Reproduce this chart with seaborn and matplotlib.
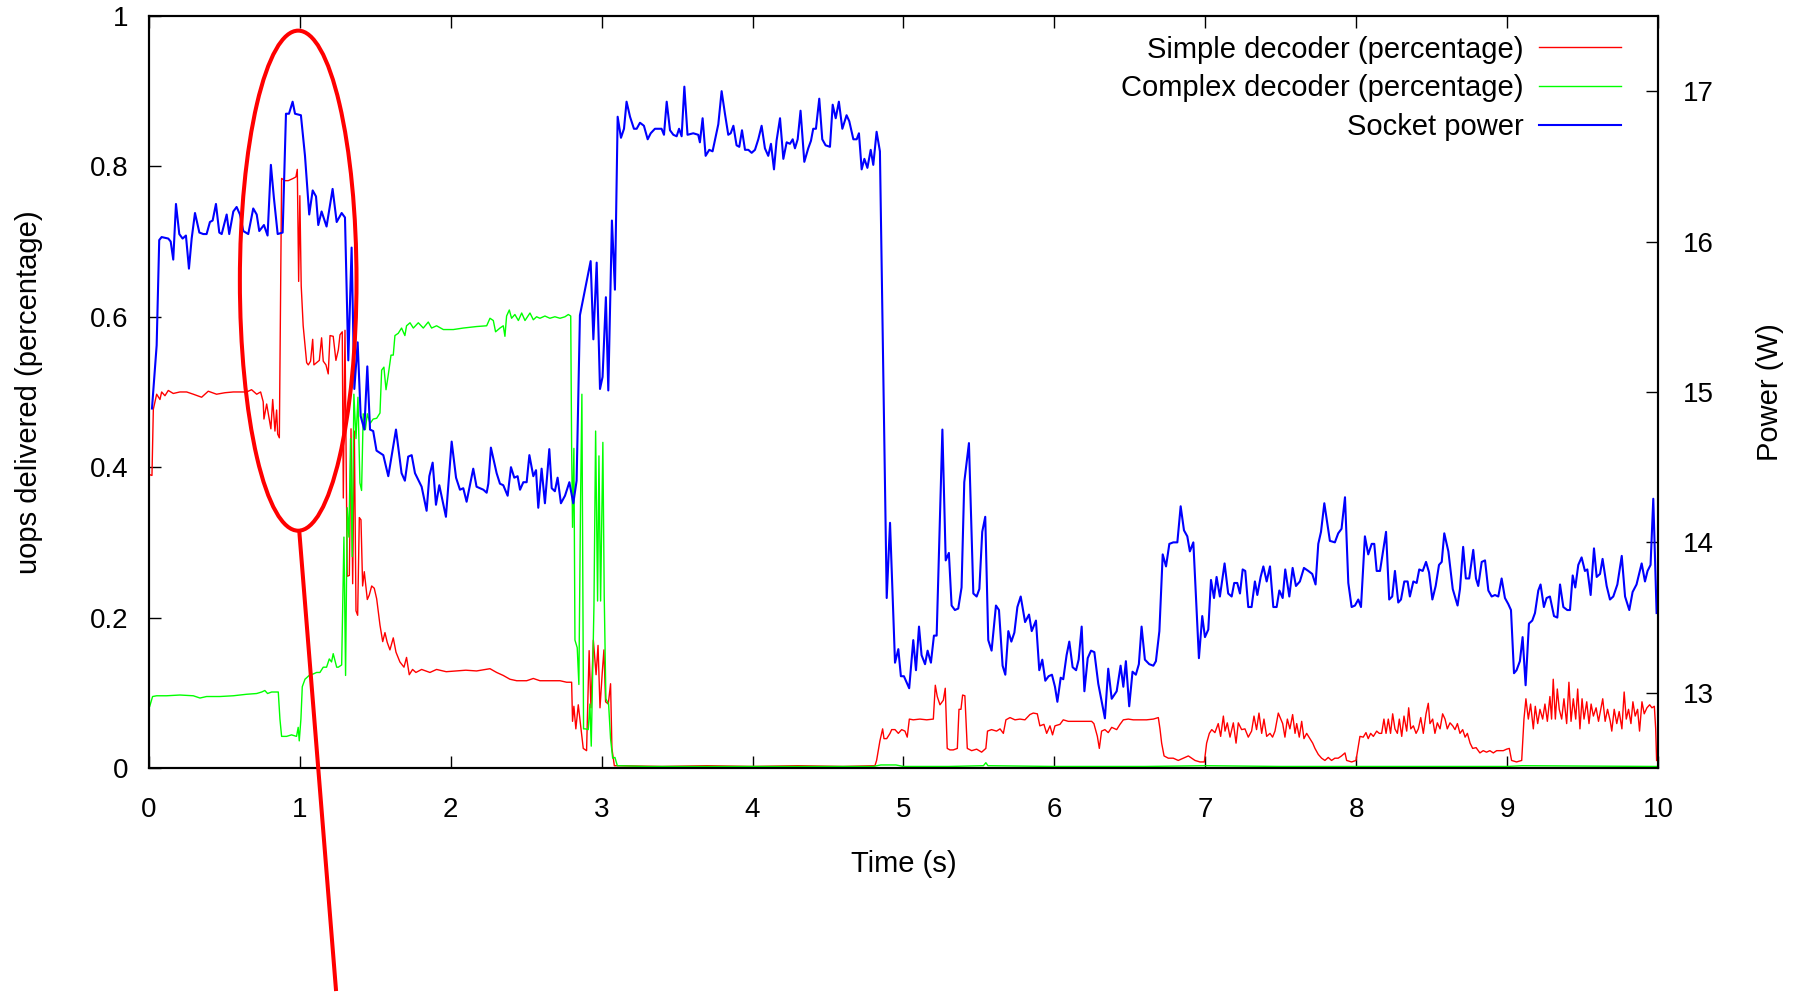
import numpy as np
import matplotlib
matplotlib.use("Agg")
import matplotlib.pyplot as plt
from matplotlib.patches import Ellipse
import seaborn as sns

plt.rcParams["font.family"] = ["Liberation Sans", "DejaVu Sans"]

# simple decoder share: (time s, fraction of uops)
simple_pts = [
    (0.005, 0.39), (0.02, 0.389), (0.029, 0.477), (0.051, 0.497), (0.073, 0.49), (0.084, 0.5),
    (0.106, 0.495), (0.128, 0.502), (0.161, 0.498), (0.205, 0.5), (0.25, 0.5), (0.294, 0.497),
    (0.349, 0.493), (0.393, 0.501), (0.448, 0.497), (0.504, 0.499), (0.559, 0.5), (0.603, 0.5),
    (0.647, 0.5), (0.68, 0.503), (0.714, 0.497), (0.74, 0.5), (0.757, 0.487), (0.762, 0.464),
    (0.78, 0.484), (0.797, 0.464), (0.808, 0.451), (0.82, 0.49), (0.835, 0.448), (0.846, 0.476),
    (0.853, 0.444), (0.864, 0.439), (0.879, 0.784), (0.901, 0.781), (0.923, 0.781), (0.956, 0.784),
    (0.974, 0.786), (0.983, 0.796), (0.992, 0.647), (1.0, 0.761), (1.009, 0.641), (1.022, 0.588),
    (1.034, 0.562), (1.045, 0.539), (1.056, 0.536), (1.071, 0.541), (1.085, 0.57), (1.093, 0.536),
    (1.111, 0.539), (1.129, 0.542), (1.144, 0.572), (1.155, 0.541), (1.173, 0.536), (1.188, 0.524),
    (1.2, 0.575), (1.221, 0.574), (1.239, 0.542), (1.255, 0.556), (1.266, 0.576), (1.281, 0.58),
    (1.288, 0.359), (1.299, 0.582), (1.314, 0.255), (1.328, 0.256), (1.339, 0.451), (1.35, 0.245),
    (1.361, 0.448), (1.372, 0.209), (1.383, 0.203), (1.394, 0.333), (1.405, 0.33), (1.416, 0.242),
    (1.427, 0.261), (1.447, 0.224), (1.46, 0.23), (1.476, 0.242), (1.493, 0.239), (1.509, 0.225),
    (1.531, 0.19), (1.549, 0.168), (1.564, 0.18), (1.579, 0.167), (1.597, 0.157), (1.619, 0.173),
    (1.637, 0.154), (1.663, 0.141), (1.69, 0.134), (1.707, 0.147), (1.725, 0.124), (1.747, 0.131),
    (1.769, 0.127), (1.807, 0.131), (1.862, 0.127), (1.906, 0.131), (1.97, 0.128), (2.039, 0.129),
    (2.1, 0.13), (2.171, 0.129), (2.26, 0.132), (2.304, 0.127), (2.348, 0.123), (2.392, 0.118),
    (2.437, 0.116), (2.503, 0.116), (2.547, 0.119), (2.591, 0.116), (2.635, 0.116), (2.679, 0.116),
    (2.724, 0.116), (2.768, 0.114), (2.801, 0.114), (2.807, 0.062), (2.816, 0.082), (2.829, 0.052),
    (2.845, 0.084), (2.863, 0.052), (2.878, 0.026), (2.9, 0.023), (2.917, 0.156), (2.929, 0.08),
    (2.945, 0.17), (2.963, 0.124), (2.976, 0.163), (2.989, 0.08), (3.004, 0.127), (3.015, 0.157),
    (3.026, 0.088), (3.044, 0.085), (3.059, 0.112), (3.068, 0.026), (3.084, 0.003), (3.121, 0.003),
    (3.4, 0.002), (3.7, 0.003), (4.0, 0.002), (4.3, 0.003), (4.6, 0.002), (4.811, 0.003),
    (4.822, 0.01), (4.844, 0.036), (4.862, 0.052), (4.871, 0.039), (4.889, 0.039), (4.911, 0.046),
    (4.922, 0.051), (4.944, 0.051), (4.966, 0.046), (4.988, 0.051), (5.01, 0.049), (5.025, 0.041),
    (5.039, 0.065), (5.065, 0.064), (5.109, 0.065), (5.154, 0.064), (5.198, 0.065), (5.211, 0.11),
    (5.224, 0.095), (5.242, 0.084), (5.264, 0.09), (5.277, 0.106), (5.29, 0.026), (5.308, 0.024),
    (5.33, 0.024), (5.357, 0.026), (5.368, 0.078), (5.381, 0.078), (5.392, 0.097), (5.407, 0.096),
    (5.423, 0.026), (5.452, 0.023), (5.485, 0.025), (5.518, 0.021), (5.546, 0.026), (5.557, 0.049),
    (5.584, 0.051), (5.617, 0.049), (5.64, 0.052), (5.662, 0.046), (5.679, 0.064), (5.706, 0.067),
    (5.739, 0.064), (5.772, 0.065), (5.805, 0.064), (5.838, 0.071), (5.86, 0.073), (5.887, 0.072),
    (5.904, 0.056), (5.931, 0.058), (5.949, 0.046), (5.971, 0.056), (5.988, 0.044), (6.004, 0.056),
    (6.037, 0.058), (6.059, 0.064), (6.092, 0.062), (6.137, 0.062), (6.192, 0.062), (6.247, 0.062),
    (6.262, 0.059), (6.285, 0.042), (6.298, 0.026), (6.313, 0.049), (6.335, 0.051), (6.357, 0.047),
    (6.38, 0.054), (6.413, 0.051), (6.435, 0.058), (6.457, 0.064), (6.49, 0.065), (6.523, 0.064),
    (6.567, 0.064), (6.611, 0.064), (6.656, 0.065), (6.689, 0.067), (6.7, 0.052), (6.711, 0.033),
    (6.727, 0.016), (6.755, 0.013), (6.788, 0.013), (6.821, 0.01), (6.855, 0.013), (6.888, 0.016),
    (6.91, 0.013), (6.932, 0.01), (6.965, 0.008), (6.994, 0.008), (7.009, 0.033), (7.027, 0.046),
    (7.043, 0.051), (7.064, 0.047), (7.086, 0.059), (7.102, 0.042), (7.12, 0.069), (7.131, 0.049),
    (7.146, 0.06), (7.164, 0.041), (7.186, 0.06), (7.204, 0.033), (7.219, 0.06), (7.241, 0.051),
    (7.263, 0.052), (7.285, 0.041), (7.307, 0.049), (7.323, 0.069), (7.34, 0.051), (7.356, 0.073),
    (7.374, 0.046), (7.389, 0.065), (7.407, 0.042), (7.429, 0.046), (7.446, 0.041), (7.462, 0.049),
    (7.484, 0.073), (7.513, 0.059), (7.528, 0.041), (7.544, 0.065), (7.561, 0.052), (7.579, 0.071),
    (7.595, 0.046), (7.606, 0.059), (7.623, 0.041), (7.639, 0.062), (7.654, 0.039), (7.672, 0.046),
    (7.694, 0.039), (7.712, 0.033), (7.727, 0.026), (7.749, 0.018), (7.771, 0.013), (7.793, 0.01),
    (7.815, 0.014), (7.837, 0.01), (7.859, 0.013), (7.881, 0.013), (7.903, 0.016), (7.926, 0.02),
    (7.937, 0.01), (7.97, 0.008), (7.999, 0.01), (8.025, 0.042), (8.047, 0.041), (8.065, 0.047),
    (8.08, 0.039), (8.096, 0.046), (8.114, 0.042), (8.136, 0.049), (8.153, 0.046), (8.169, 0.046),
    (8.184, 0.065), (8.198, 0.046), (8.213, 0.065), (8.228, 0.046), (8.242, 0.072), (8.257, 0.052),
    (8.273, 0.046), (8.286, 0.065), (8.302, 0.042), (8.317, 0.069), (8.335, 0.049), (8.348, 0.08),
    (8.362, 0.052), (8.379, 0.056), (8.397, 0.046), (8.412, 0.052), (8.428, 0.067), (8.445, 0.046),
    (8.463, 0.072), (8.478, 0.086), (8.489, 0.059), (8.507, 0.065), (8.522, 0.046), (8.538, 0.06),
    (8.556, 0.052), (8.573, 0.072), (8.589, 0.065), (8.604, 0.052), (8.622, 0.06), (8.64, 0.056),
    (8.655, 0.051), (8.671, 0.059), (8.688, 0.046), (8.706, 0.051), (8.722, 0.041), (8.737, 0.046),
    (8.755, 0.033), (8.772, 0.026), (8.795, 0.027), (8.82, 0.02), (8.842, 0.023), (8.864, 0.021),
    (8.886, 0.023), (8.909, 0.02), (8.931, 0.023), (8.953, 0.023), (8.975, 0.023), (8.997, 0.025),
    (9.015, 0.026), (9.03, 0.01), (9.063, 0.008), (9.097, 0.01), (9.112, 0.065), (9.125, 0.092),
    (9.141, 0.065), (9.156, 0.085), (9.174, 0.052), (9.187, 0.082), (9.203, 0.059), (9.218, 0.078),
    (9.236, 0.065), (9.251, 0.085), (9.267, 0.062), (9.284, 0.095), (9.295, 0.065), (9.306, 0.118),
    (9.32, 0.065), (9.333, 0.105), (9.346, 0.078), (9.362, 0.065), (9.377, 0.092), (9.395, 0.059),
    (9.41, 0.114), (9.424, 0.062), (9.439, 0.092), (9.455, 0.065), (9.468, 0.105), (9.483, 0.052),
    (9.497, 0.092), (9.51, 0.065), (9.528, 0.088), (9.543, 0.059), (9.557, 0.085), (9.572, 0.069),
    (9.59, 0.08), (9.606, 0.062), (9.621, 0.078), (9.634, 0.092), (9.65, 0.062), (9.666, 0.078),
    (9.684, 0.062), (9.694, 0.049), (9.71, 0.078), (9.727, 0.059), (9.743, 0.075), (9.761, 0.052),
    (9.776, 0.101), (9.79, 0.065), (9.805, 0.078), (9.821, 0.059), (9.834, 0.088), (9.849, 0.069),
    (9.865, 0.078), (9.878, 0.049), (9.894, 0.088), (9.909, 0.072), (9.927, 0.08), (9.945, 0.084),
    (9.96, 0.08), (9.976, 0.082), (9.985, 0.052), (9.991, 0.01),
]

# complex decoder share: (time s, fraction of uops)
complex_pts = [
    (0.005, 0.082), (0.024, 0.095), (0.051, 0.096), (0.117, 0.096), (0.205, 0.097), (0.294, 0.096),
    (0.338, 0.093), (0.382, 0.095), (0.47, 0.095), (0.559, 0.096), (0.647, 0.098), (0.714, 0.099),
    (0.747, 0.101), (0.768, 0.103), (0.786, 0.099), (0.813, 0.101), (0.857, 0.101), (0.868, 0.065),
    (0.879, 0.042), (0.912, 0.042), (0.945, 0.044), (0.978, 0.042), (0.989, 0.054), (0.996, 0.036),
    (1.007, 0.065), (1.016, 0.108), (1.034, 0.118), (1.067, 0.124), (1.089, 0.125), (1.111, 0.127),
    (1.133, 0.127), (1.155, 0.134), (1.177, 0.134), (1.195, 0.145), (1.21, 0.141), (1.221, 0.152),
    (1.244, 0.134), (1.255, 0.134), (1.277, 0.137), (1.292, 0.307), (1.303, 0.123), (1.314, 0.346),
    (1.325, 0.307), (1.336, 0.438), (1.347, 0.281), (1.358, 0.497), (1.372, 0.438), (1.385, 0.493),
    (1.398, 0.379), (1.409, 0.369), (1.42, 0.471), (1.434, 0.45), (1.447, 0.471), (1.465, 0.458),
    (1.486, 0.464), (1.509, 0.465), (1.531, 0.472), (1.542, 0.529), (1.557, 0.533), (1.571, 0.503),
    (1.586, 0.523), (1.604, 0.549), (1.619, 0.549), (1.63, 0.575), (1.652, 0.578), (1.674, 0.585),
    (1.696, 0.575), (1.707, 0.588), (1.73, 0.592), (1.752, 0.585), (1.785, 0.592), (1.818, 0.585),
    (1.851, 0.593), (1.873, 0.585), (1.906, 0.588), (1.951, 0.583), (2.017, 0.583), (2.083, 0.585),
    (2.171, 0.587), (2.238, 0.588), (2.26, 0.598), (2.282, 0.595), (2.297, 0.58), (2.326, 0.585),
    (2.348, 0.588), (2.359, 0.574), (2.37, 0.601), (2.388, 0.609), (2.403, 0.598), (2.425, 0.603),
    (2.448, 0.595), (2.47, 0.605), (2.492, 0.595), (2.525, 0.605), (2.547, 0.596), (2.569, 0.6),
    (2.591, 0.598), (2.624, 0.601), (2.657, 0.598), (2.69, 0.6), (2.724, 0.598), (2.757, 0.6),
    (2.779, 0.603), (2.795, 0.601), (2.801, 0.425), (2.807, 0.32), (2.816, 0.425), (2.823, 0.17),
    (2.838, 0.16), (2.849, 0.111), (2.86, 0.353), (2.869, 0.497), (2.88, 0.052), (2.891, 0.052),
    (2.911, 0.051), (2.922, 0.085), (2.931, 0.029), (2.949, 0.216), (2.96, 0.448), (2.973, 0.222),
    (2.982, 0.415), (2.993, 0.222), (3.008, 0.433), (3.017, 0.229), (3.028, 0.092), (3.046, 0.085),
    (3.059, 0.039), (3.073, 0.013), (3.088, 0.014), (3.104, 0.003), (3.3, 0.002), (3.8, 0.002),
    (4.3, 0.002), (4.8, 0.002), (4.85, 0.004), (4.95, 0.004), (5.0, 0.002), (5.3, 0.002),
    (5.53, 0.003), (5.546, 0.007), (5.56, 0.003), (6.0, 0.002), (6.6, 0.002), (7.0, 0.003),
    (7.5, 0.002), (8.0, 0.002), (9.0, 0.002), (9.1, 0.003), (9.99, 0.002),
]

# socket power: (time s, watts)
power_pts = [
    (0.02, 14.89), (0.051, 15.31), (0.068, 16.01), (0.084, 16.03), (0.128, 16.02), (0.144, 16.0),
    (0.161, 15.88), (0.179, 16.25), (0.201, 16.05), (0.223, 16.02), (0.245, 16.04), (0.265, 15.82),
    (0.283, 16.02), (0.305, 16.19), (0.334, 16.06), (0.36, 16.05), (0.382, 16.05), (0.404, 16.13),
    (0.422, 16.14), (0.444, 16.25), (0.466, 16.06), (0.482, 16.05), (0.515, 16.18), (0.532, 16.05),
    (0.559, 16.2), (0.581, 16.23), (0.603, 16.18), (0.625, 16.07), (0.658, 16.05), (0.691, 16.22),
    (0.714, 16.18), (0.731, 16.07), (0.762, 16.11), (0.786, 16.04), (0.808, 16.51), (0.828, 16.29),
    (0.853, 16.05), (0.886, 16.06), (0.908, 16.85), (0.928, 16.85), (0.952, 16.93), (0.968, 16.85),
    (1.007, 16.84), (1.034, 16.57), (1.062, 16.18), (1.085, 16.34), (1.107, 16.3), (1.122, 16.11),
    (1.144, 16.2), (1.177, 16.1), (1.217, 16.35), (1.244, 16.13), (1.277, 16.19), (1.299, 16.16),
    (1.321, 15.21), (1.343, 15.96), (1.361, 15.02), (1.383, 15.33), (1.403, 14.84), (1.427, 14.75),
    (1.447, 15.17), (1.465, 14.75), (1.486, 14.74), (1.508, 14.61), (1.553, 14.58), (1.586, 14.44),
    (1.637, 14.75), (1.674, 14.46), (1.696, 14.41), (1.718, 14.57), (1.741, 14.58), (1.763, 14.46),
    (1.807, 14.37), (1.84, 14.21), (1.858, 14.44), (1.88, 14.53), (1.902, 14.25), (1.924, 14.38),
    (1.968, 14.17), (2.006, 14.67), (2.035, 14.43), (2.061, 14.35), (2.083, 14.36), (2.105, 14.27),
    (2.149, 14.49), (2.171, 14.37), (2.216, 14.35), (2.238, 14.33), (2.249, 14.39), (2.266, 14.63),
    (2.304, 14.46), (2.326, 14.39), (2.348, 14.38), (2.377, 14.31), (2.399, 14.5), (2.421, 14.43),
    (2.443, 14.44), (2.459, 14.35), (2.481, 14.4), (2.503, 14.4), (2.521, 14.58), (2.547, 14.44),
    (2.565, 14.48), (2.58, 14.23), (2.602, 14.49), (2.624, 14.26), (2.653, 14.62), (2.669, 14.36),
    (2.69, 14.34), (2.708, 14.43), (2.73, 14.26), (2.757, 14.31), (2.786, 14.4), (2.812, 14.26),
    (2.834, 14.41), (2.856, 15.51), (2.927, 15.87), (2.945, 15.35), (2.967, 15.86), (2.989, 15.02),
    (3.006, 15.1), (3.028, 15.63), (3.044, 15.01), (3.068, 16.14), (3.088, 15.68), (3.106, 16.83),
    (3.128, 16.69), (3.148, 16.75), (3.165, 16.93), (3.188, 16.83), (3.214, 16.75), (3.232, 16.75),
    (3.254, 16.79), (3.28, 16.77), (3.305, 16.68), (3.325, 16.72), (3.353, 16.75), (3.382, 16.75),
    (3.397, 16.75), (3.413, 16.71), (3.431, 16.93), (3.453, 16.74), (3.475, 16.71), (3.497, 16.7),
    (3.513, 16.75), (3.53, 16.7), (3.548, 17.03), (3.569, 16.71), (3.607, 16.72), (3.64, 16.71),
    (3.651, 16.66), (3.669, 16.82), (3.689, 16.57), (3.713, 16.61), (3.735, 16.6), (3.773, 16.78),
    (3.795, 17.0), (3.817, 16.85), (3.839, 16.71), (3.855, 16.72), (3.873, 16.77), (3.894, 16.64),
    (3.912, 16.63), (3.93, 16.74), (3.95, 16.61), (3.972, 16.61), (3.994, 16.59), (4.016, 16.61),
    (4.038, 16.68), (4.06, 16.77), (4.082, 16.62), (4.104, 16.57), (4.122, 16.65), (4.142, 16.48),
    (4.159, 16.67), (4.182, 16.82), (4.204, 16.55), (4.226, 16.66), (4.248, 16.65), (4.266, 16.68),
    (4.281, 16.62), (4.299, 16.68), (4.318, 16.87), (4.343, 16.53), (4.369, 16.62), (4.387, 16.67),
    (4.402, 16.75), (4.42, 16.75), (4.442, 16.95), (4.462, 16.68), (4.484, 16.64), (4.513, 16.63),
    (4.531, 16.91), (4.551, 16.82), (4.572, 16.93), (4.595, 16.75), (4.623, 16.84), (4.641, 16.8),
    (4.668, 16.68), (4.69, 16.68), (4.705, 16.72), (4.723, 16.48), (4.741, 16.55), (4.761, 16.49),
    (4.783, 16.61), (4.8, 16.51), (4.822, 16.73), (4.844, 16.6), (4.889, 13.63), (4.911, 14.13),
    (4.944, 13.2), (4.966, 13.29), (4.983, 13.11), (5.003, 13.11), (5.038, 13.03), (5.065, 13.35),
    (5.083, 13.15), (5.103, 13.44), (5.12, 13.25), (5.143, 13.19), (5.16, 13.28), (5.182, 13.2),
    (5.202, 13.38), (5.22, 13.38), (5.258, 14.75), (5.28, 13.88), (5.301, 13.93), (5.319, 13.58),
    (5.341, 13.55), (5.363, 13.56), (5.385, 13.7), (5.403, 14.4), (5.434, 14.66), (5.463, 13.66),
    (5.485, 13.64), (5.503, 13.69), (5.522, 14.07), (5.542, 14.17), (5.562, 13.35), (5.584, 13.28),
    (5.613, 13.58), (5.633, 13.55), (5.657, 13.18), (5.675, 13.12), (5.695, 13.41), (5.715, 13.34),
    (5.735, 13.4), (5.755, 13.57), (5.777, 13.64), (5.806, 13.47), (5.832, 13.52), (5.85, 13.41),
    (5.878, 13.48), (5.9, 13.15), (5.92, 13.22), (5.94, 13.08), (5.962, 13.11), (5.984, 13.12),
    (6.004, 13.04), (6.02, 12.94), (6.042, 13.1), (6.059, 13.09), (6.081, 13.25), (6.099, 13.34),
    (6.121, 13.17), (6.144, 13.15), (6.161, 13.22), (6.181, 13.44), (6.199, 13.01), (6.221, 13.23),
    (6.243, 13.28), (6.265, 13.27), (6.291, 13.06), (6.335, 12.83), (6.357, 13.16), (6.38, 12.96),
    (6.413, 13.01), (6.439, 13.18), (6.457, 13.04), (6.474, 13.21), (6.496, 12.91), (6.518, 13.14),
    (6.54, 13.12), (6.56, 13.19), (6.578, 13.44), (6.6, 13.22), (6.629, 13.19), (6.656, 13.18),
    (6.673, 13.21), (6.696, 13.41), (6.718, 13.92), (6.74, 13.84), (6.762, 13.99), (6.788, 14.0),
    (6.815, 14.0), (6.837, 14.24), (6.859, 14.08), (6.881, 14.04), (6.898, 13.94), (6.921, 14.0),
    (6.958, 13.23), (6.98, 13.51), (6.998, 13.37), (7.02, 13.42), (7.038, 13.75), (7.058, 13.63),
    (7.075, 13.77), (7.097, 13.64), (7.128, 13.86), (7.152, 13.66), (7.175, 13.64), (7.192, 13.73),
    (7.212, 13.73), (7.23, 13.66), (7.248, 13.82), (7.265, 13.81), (7.285, 13.57), (7.307, 13.57),
    (7.329, 13.74), (7.345, 13.65), (7.367, 13.77), (7.385, 13.84), (7.407, 13.74), (7.429, 13.84),
    (7.451, 13.57), (7.473, 13.57), (7.491, 13.68), (7.513, 13.63), (7.53, 13.82), (7.557, 13.64),
    (7.579, 13.83), (7.601, 13.71), (7.627, 13.74), (7.654, 13.83), (7.683, 13.81), (7.709, 13.79),
    (7.731, 13.72), (7.749, 13.99), (7.767, 14.07), (7.789, 14.26), (7.826, 14.01), (7.859, 14.0),
    (7.881, 14.06), (7.903, 14.09), (7.926, 14.3), (7.948, 13.73), (7.97, 13.57), (7.992, 13.58),
    (8.014, 13.62), (8.032, 13.57), (8.058, 14.04), (8.08, 13.92), (8.103, 13.99), (8.12, 13.99),
    (8.136, 13.81), (8.158, 13.81), (8.198, 14.07), (8.219, 13.62), (8.239, 13.64), (8.257, 13.81),
    (8.279, 13.6), (8.297, 13.62), (8.319, 13.74), (8.341, 13.74), (8.356, 13.64), (8.379, 13.74),
    (8.401, 13.73), (8.418, 13.82), (8.441, 13.81), (8.463, 13.87), (8.483, 13.8), (8.505, 13.62),
    (8.527, 13.71), (8.549, 13.85), (8.567, 13.87), (8.584, 14.06), (8.611, 13.94), (8.64, 13.69),
    (8.672, 13.58), (8.688, 13.69), (8.709, 13.97), (8.727, 13.76), (8.749, 13.76), (8.776, 13.95),
    (8.794, 13.76), (8.809, 13.71), (8.832, 13.87), (8.854, 13.88), (8.876, 13.68), (8.898, 13.64),
    (8.92, 13.65), (8.942, 13.64), (8.964, 13.76), (8.986, 13.63), (9.008, 13.59), (9.026, 13.55),
    (9.046, 13.13), (9.063, 13.15), (9.085, 13.21), (9.103, 13.37), (9.123, 13.05), (9.145, 13.46),
    (9.167, 13.48), (9.185, 13.53), (9.207, 13.68), (9.222, 13.72), (9.244, 13.57), (9.262, 13.63),
    (9.284, 13.64), (9.311, 13.51), (9.333, 13.5), (9.351, 13.72), (9.373, 13.57), (9.399, 13.55),
    (9.417, 13.55), (9.435, 13.78), (9.452, 13.7), (9.472, 13.85), (9.494, 13.9), (9.516, 13.81),
    (9.532, 13.82), (9.554, 13.65), (9.576, 13.96), (9.594, 13.77), (9.616, 13.79), (9.633, 13.89),
    (9.66, 13.71), (9.682, 13.62), (9.704, 13.64), (9.731, 13.72), (9.76, 13.91), (9.782, 13.64),
    (9.81, 13.55), (9.832, 13.67), (9.858, 13.72), (9.892, 13.86), (9.914, 13.74), (9.931, 13.81),
    (9.951, 13.85), (9.969, 14.29), (9.991, 13.53),
]

series_labels = ["Simple decoder (percentage)", "Complex decoder (percentage)", "Socket power"]
series_colors = ["#ff0000", "#00ff00", "#0000ff"]
x_ticks = [0, 1, 2, 3, 4, 5, 6, 7, 8, 9, 10]
left_ticks = [0, 0.2, 0.4, 0.6, 0.8, 1]
left_tick_labels = ["0", "0.2", "0.4", "0.6", "0.8", "1"]
right_ticks = [13, 14, 15, 16, 17]

simple = np.array(simple_pts)
cplx = np.array(complex_pts)
power = np.array(power_pts)

fig = plt.figure(figsize=(17.99, 9.98), dpi=100)
ax = fig.add_axes([0.0828, 0.2305, 0.8388, 0.7535])
ax2 = ax.twinx()

sns.lineplot(x=simple[:, 0], y=simple[:, 1], ax=ax, color=series_colors[0], lw=1.0,
             estimator=None, sort=False, legend=False, label=series_labels[0])
sns.lineplot(x=cplx[:, 0], y=cplx[:, 1], ax=ax, color=series_colors[1], lw=1.0,
             estimator=None, sort=False, legend=False, label=series_labels[1])
sns.lineplot(x=power[:, 0], y=power[:, 1], ax=ax2, color=series_colors[2], lw=1.5,
             estimator=None, sort=False, legend=False, label=series_labels[2])

ax.set_xlim(0, 10)
ax.set_ylim(0, 1)
ax2.set_ylim(12.5, 17.5)

ax.set_xticks(x_ticks, [str(v) for v in x_ticks])
ax.set_yticks(left_ticks, left_tick_labels)
ax2.set_yticks(right_ticks, [str(v) for v in right_ticks])

ax.tick_params(axis="x", direction="in", length=8.5, width=1, top=True, pad=21, labelsize=20)
ax.tick_params(axis="y", direction="in", length=8.5, width=1, right=False, pad=15, labelsize=20)
ax2.tick_params(axis="y", direction="in", length=8.5, width=1, pad=18, labelsize=20)
for a in (ax, ax2):
    for sp in a.spines.values():
        sp.set_linewidth(1.5)

ax.set_xlabel("Time (s)", fontsize=21)
ax.xaxis.label.set_va("center")
ax.xaxis.set_label_coords(0.5, -0.128)
ax.set_ylabel("uops delivered (percentage)", fontsize=21)
ax.yaxis.label.set_va("center")
ax.yaxis.set_label_coords(-0.0795, 0.5)
ax2.set_ylabel("Power (W)", fontsize=21)
ax2.yaxis.label.set_va("center")
ax2.yaxis.set_label_coords(1.0742, 0.5)

# red highlight ellipse with its pointer line
ax2.add_patch(Ellipse((0.989, 0.648), 0.773, 0.665, transform=ax.transData, fill=False,
                      edgecolor="#ff0000", lw=2.9, clip_on=False, zorder=5))
ax2.plot([0.996, 1.239], [0.315, -0.294], transform=ax.transData, color="#ff0000",
         lw=2.9, clip_on=False, zorder=5)

h1, l1 = ax.get_legend_handles_labels()
h2, l2 = ax2.get_legend_handles_labels()
ax2.legend(h1 + h2, l1 + l2, loc="upper right", bbox_to_anchor=(0.9755, 0.974),
           frameon=False, markerfirst=False, fontsize=21, handlelength=2.8,
           handletextpad=0.55, labelspacing=0.37, borderpad=0, borderaxespad=0)

fig.savefig("out.png", dpi=100)
